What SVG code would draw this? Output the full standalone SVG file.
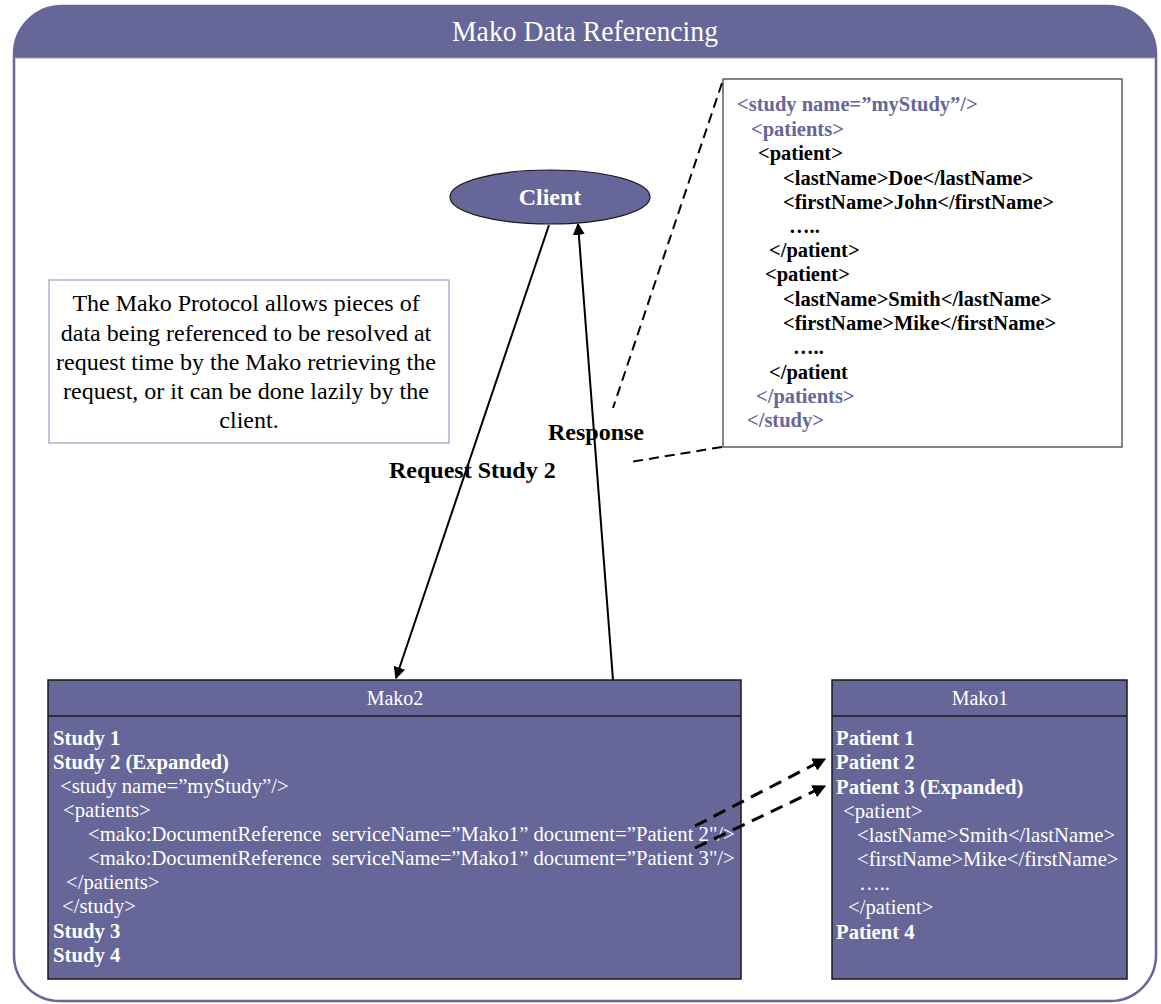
<svg xmlns="http://www.w3.org/2000/svg" width="1161" height="1004" viewBox="0 0 1161 1004">
  <style>
    .serif { font-family: "Liberation Serif", "Times New Roman", serif; }
    .title { font-size: 30px; fill: #ffffff; }
    .hdr { font-size: 20px; fill: #ffffff; }
    .item { font-size: 20.7px; fill: #ffffff; }
    .b { font-weight: bold; }
    .xml { font-size: 20.5px; font-weight: bold; }
    .xp { fill: #666699; }
    .xk { fill: #000000; }
    .label { font-size: 24px; font-weight: bold; fill: #000000; }
    .note { font-size: 24px; fill: #000000; }
    .panel { fill: #666699; stroke: #1a1a1a; stroke-width: 1.5; }
  </style>
  <defs>
    <marker id="arrow" viewBox="0 0 10 10" refX="9" refY="5" markerWidth="6" markerHeight="6" orient="auto" markerUnits="strokeWidth">
      <path d="M0,0 L10,5 L0,10 Z" fill="#000000"/>
    </marker>
    <marker id="arrowBig" viewBox="0 0 10 10" refX="9" refY="5" markerWidth="4.5" markerHeight="4.5" orient="auto" markerUnits="strokeWidth">
      <path d="M0,0 L10,5 L0,10 Z" fill="#000000"/>
    </marker>
  </defs>

  <rect width="1161" height="1004" fill="#ffffff"/>

  <!-- outer frame with title band -->
  <g id="frame">
    <path d="M14,58 V54 A48,48 0 0 1 62,6 H1108 A48,48 0 0 1 1156,54 V58 Z" fill="#666699"/>
    <path d="M14,54 A48,48 0 0 1 62,6 H1108 A48,48 0 0 1 1156,54 V955 A46,46 0 0 1 1110,1001 H60 A46,46 0 0 1 14,955 Z" fill="none" stroke="#666699" stroke-width="2.5"/>
    <line x1="14" y1="58" x2="1156" y2="58" stroke="#9a9ac4" stroke-width="1"/>
    <text class="serif title" x="585" y="41" text-anchor="middle" textLength="266" lengthAdjust="spacingAndGlyphs">Mako Data Referencing</text>
  </g>

  <!-- explanatory note -->
  <g id="note">
    <rect x="49" y="280" width="400" height="163" fill="#ffffff" stroke="#8888bb" stroke-width="1"/>
    <text class="serif note" text-anchor="middle">
      <tspan x="249" y="311">The Mako Protocol allows pieces of</tspan>
      <tspan x="249" y="341">data being referenced to be resolved at</tspan>
      <tspan x="249" y="370">request time by the Mako retrieving the</tspan>
      <tspan x="249" y="399">request, or it can be done lazily by the</tspan>
      <tspan x="249" y="428">client.</tspan>
    </text>
  </g>

  <!-- client -->
  <g id="client">
    <ellipse cx="550" cy="197" rx="100" ry="27" fill="#666699" stroke="#1a1a1a" stroke-width="1.2"/>
    <text class="serif b" x="550" y="205" font-size="24" fill="#ffffff" text-anchor="middle">Client</text>
  </g>

  <!-- XML response document -->
  <g id="response-doc">
    <rect x="723" y="79" width="399" height="368" fill="#ffffff" stroke="#444444" stroke-width="1.3"/>
    <text class="serif xml">
      <tspan class="xp" x="737" y="111">&lt;study name=”myStudy”/&gt;</tspan>
      <tspan class="xp" x="751" y="136">&lt;patients&gt;</tspan>
      <tspan class="xk" x="758" y="160">&lt;patient&gt;</tspan>
      <tspan class="xk" x="783" y="185">&lt;lastName&gt;Doe&lt;/lastName&gt;</tspan>
      <tspan class="xk" x="783" y="209">&lt;firstName&gt;John&lt;/firstName&gt;</tspan>
      <tspan class="xk" x="789" y="233">…..</tspan>
      <tspan class="xk" x="769" y="257">&lt;/patient&gt;</tspan>
      <tspan class="xk" x="765" y="281">&lt;patient&gt;</tspan>
      <tspan class="xk" x="783" y="306">&lt;lastName&gt;Smith&lt;/lastName&gt;</tspan>
      <tspan class="xk" x="783" y="330">&lt;firstName&gt;Mike&lt;/firstName&gt;</tspan>
      <tspan class="xk" x="793" y="354">…..</tspan>
      <tspan class="xk" x="769" y="379">&lt;/patient</tspan>
      <tspan class="xp" x="756" y="403">&lt;/patients&gt;</tspan>
      <tspan class="xp" x="747" y="427">&lt;/study&gt;</tspan>
    </text>
  </g>

  <!-- Mako2 service -->
  <g id="mako2">
    <rect class="panel" x="48" y="680" width="693" height="299"/>
    <line x1="48" y1="716" x2="741" y2="716" stroke="#1a1a1a" stroke-width="1.5"/>
    <text class="serif hdr" x="395" y="705" text-anchor="middle">Mako2</text>
    <text class="serif item" xml:space="preserve"><tspan class="b" x="53" y="745">Study 1</tspan><tspan class="b" x="53" y="769">Study 2 (Expanded)</tspan><tspan x="60" y="793">&lt;study name=”myStudy”/&gt;</tspan><tspan x="63" y="817">&lt;patients&gt;</tspan><tspan x="88" y="841">&lt;mako:DocumentReference  serviceName=”Mako1” document=”Patient 2"/&gt;</tspan><tspan x="88" y="865">&lt;mako:DocumentReference  serviceName=”Mako1” document=”Patient 3"/&gt;</tspan><tspan x="66" y="889">&lt;/patients&gt;</tspan><tspan x="62" y="913">&lt;/study&gt;</tspan><tspan class="b" x="53" y="938">Study 3</tspan><tspan class="b" x="53" y="962">Study 4</tspan></text>
  </g>

  <!-- Mako1 service -->
  <g id="mako1">
    <rect class="panel" x="832" y="680" width="295" height="299"/>
    <line x1="832" y1="716" x2="1127" y2="716" stroke="#1a1a1a" stroke-width="1.5"/>
    <text class="serif hdr" x="980" y="705" text-anchor="middle">Mako1</text>
    <text class="serif item">
      <tspan class="b" x="836" y="745">Patient 1</tspan>
      <tspan class="b" x="836" y="769">Patient 2</tspan>
      <tspan class="b" x="836" y="794">Patient 3 (Expanded)</tspan>
      <tspan x="843" y="818">&lt;patient&gt;</tspan>
      <tspan x="857" y="842">&lt;lastName&gt;Smith&lt;/lastName&gt;</tspan>
      <tspan x="857" y="866">&lt;firstName&gt;Mike&lt;/firstName&gt;</tspan>
      <tspan x="859" y="890">…..</tspan>
      <tspan x="848" y="914">&lt;/patient&gt;</tspan>
      <tspan class="b" x="836" y="939">Patient 4</tspan>
    </text>
  </g>

  <!-- connectors -->
  <g id="connectors" fill="none" stroke="#000000">
    <line x1="549" y1="225" x2="396" y2="678" stroke-width="2" marker-end="url(#arrow)"/>
    <line x1="613" y1="680" x2="578" y2="224" stroke-width="2" marker-end="url(#arrow)"/>
    <line x1="722" y1="83" x2="613" y2="408" stroke-width="2" stroke-dasharray="10,6"/>
    <line x1="722" y1="447" x2="630" y2="462" stroke-width="2" stroke-dasharray="10,6"/>
    <line x1="695" y1="826" x2="825" y2="759" stroke-width="3" stroke-dasharray="13,8" marker-end="url(#arrowBig)"/>
    <line x1="695" y1="848" x2="825" y2="786" stroke-width="3" stroke-dasharray="13,8" marker-end="url(#arrowBig)"/>
  </g>

  <!-- connector labels -->
  <g id="labels">
    <text class="serif label" x="548" y="440">Response</text>
    <text class="serif label" x="389" y="478">Request Study 2</text>
  </g>
</svg>
